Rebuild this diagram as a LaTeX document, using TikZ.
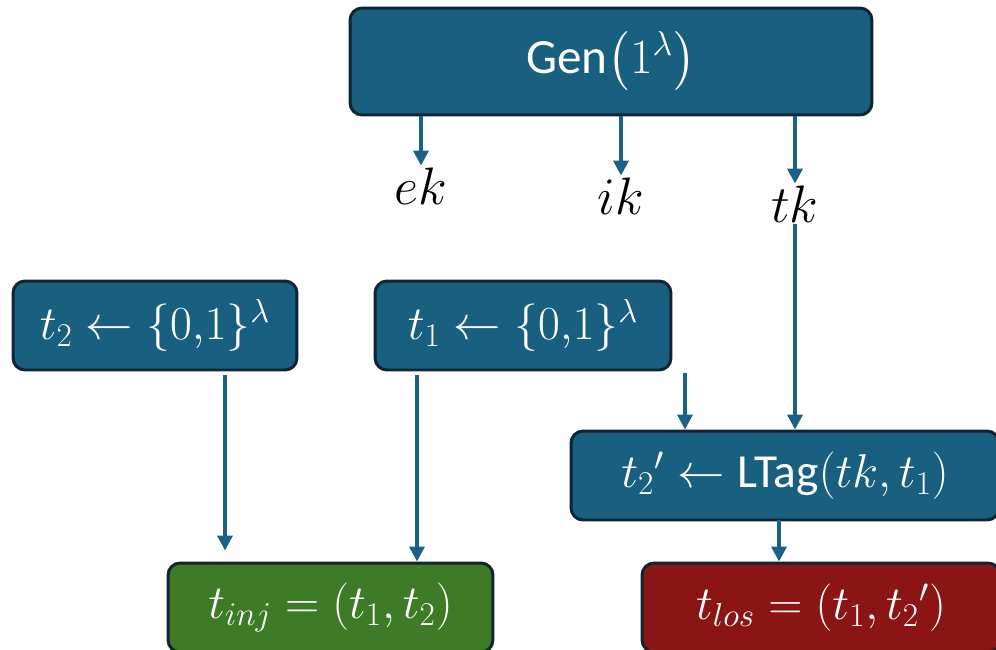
\RequirePackage{fix-cm}
\documentclass[tikz,border=0pt]{standalone}
\usepackage{amsmath, amssymb}
\usepackage[no-math]{fontspec}
\newfontfamily\calibfont{Carlito}
\usetikzlibrary{arrows.meta, positioning}

\definecolor{boxblue}{RGB}{25,95,127}
\definecolor{boxline}{RGB}{12,38,54}
\definecolor{arrowblue}{RGB}{26,97,133}
\definecolor{injgreen}{RGB}{62,123,39}
\definecolor{losred}{RGB}{139,21,21}

\begin{document}
\begin{tikzpicture}[x=0.02cm, y=-0.02cm,
    box/.style={draw=boxline, line width=1.7pt, rounded corners=0.24cm, fill=boxblue,
      text=white, minimum height=1.78cm, inner sep=0pt, font=\fontsize{27}{31}\selectfont},
    lbl/.style={inner sep=1pt, font=\fontsize{30}{34}\selectfont},
    arr/.style={draw=arrowblue, line width=2pt, -{Triangle[width=8.5pt,length=8.5pt]}}]
  \useasboundingbox (0,0) rectangle (996,649);
  \clip (0,0) rectangle (996,649);

  % key generation
  \node[box, minimum width=10.44cm, minimum height=2.14cm, font=\fontsize{28}{32}\selectfont] (gen) at (611,61.5)
    {$\text{\calibfont Gen}\bigl(1^{\lambda}\bigr)$};
  \node[lbl] (ek) at (421,186) {$ek$};
  \node[lbl] (ik) at (621,196) {$ik$};
  \node[lbl] (tk) at (795,204) {$tk$};
  \draw[arr] (gen.south -| ek) -- (ek.north);
  \draw[arr] (gen.south -| ik) -- (ik.north);
  \draw[arr] (gen.south -| tk) -- (tk.north);

  % random tags
  \node[box, minimum width=5.68cm] (t2) at (155,325.5) {$t_2 \leftarrow \{0{,}1\}^{\lambda}$};
  \node[box, minimum width=5.92cm] (t1) at (523,325.5) {$t_1 \leftarrow \{0{,}1\}^{\lambda}$};
  \node[box, minimum width=8.56cm] (ltag) at (785,475.5)
    {${t_2}' \leftarrow \text{\calibfont LTag}(tk, t_1)$};

  % final tags
  \node[box, fill=injgreen, minimum width=6.5cm] (tinj) at (330.5,607.5) {$t_{inj} = (t_1, t_2)$};
  \node[box, fill=losred, minimum width=7.16cm] (tlos) at (821,607.5) {$t_{los} = (t_1, {t_2}')$};

  \coordinate (a2) at (225,375);
  \coordinate (a1) at (417,375);
  \coordinate (b1) at (685,373);
  \coordinate (c1) at (779,520);
  \draw[arr, shorten >=0.22cm] (a2) -- (a2 |- tinj.north);
  \draw[arr] (a1) -- (a1 |- tinj.north);
  \draw[arr] (b1) -- (b1 |- ltag.north);
  \draw[arr] (tk.south) -- (tk |- ltag.north);
  \draw[arr] (c1) -- (c1 |- tlos.north);
\end{tikzpicture}
\end{document}
